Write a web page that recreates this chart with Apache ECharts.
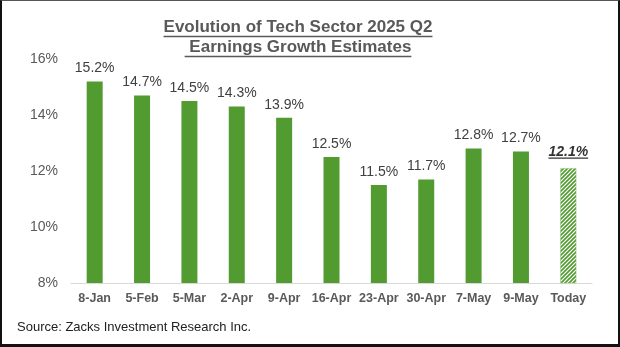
<!DOCTYPE html>
<html><head><meta charset="utf-8">
<script src="https://cdn.jsdelivr.net/npm/echarts@6/dist/echarts.min.js"></script>
<style>
html,body{margin:0;padding:0;background:#fff;}
#frame{position:absolute;left:0;top:0;width:620px;height:347px;box-sizing:border-box;border-left:2px solid #111;border-top:1px solid #555;border-right:2px solid #111;border-bottom:3px solid #111;}
#c{position:absolute;left:0;top:0;width:620px;height:347px;}
</style></head>
<body><div id="c"></div><div id="frame"></div>
<script>
const categories = ['8-Jan','5-Feb','5-Mar','2-Apr','9-Apr','16-Apr','23-Apr','30-Apr','7-May','9-May','Today'];
const growth = [15.2,14.7,14.5,14.3,13.9,12.5,11.5,11.7,12.8,12.7,12.1];
const yTicks = [8,10,12,14,16];
const titleLines = ['Evolution of Tech Sector 2025 Q2',' Earnings Growth Estimates'];
const sourceText = 'Source: Zacks Investment Research Inc.';

const GREEN = '#519B31';
const FONT = '"Liberation Sans", Arial, sans-serif';
const TITLE_CX = 298, TITLE_TOPS = [19, 39], TITLE_SIZE = 17;

// hatch pattern for the "Today" bar
const pat = document.createElement('canvas');
pat.width = 4; pat.height = 4;
const pc = pat.getContext('2d');
pc.fillStyle = '#fff'; pc.fillRect(0,0,4,4);
pc.strokeStyle = GREEN; pc.lineWidth = 1.6;
pc.beginPath();
pc.moveTo(-1,5); pc.lineTo(5,-1);
pc.moveTo(-3,3); pc.lineTo(3,-3);
pc.moveTo(1,7); pc.lineTo(7,1);
pc.stroke();

const ctx = document.createElement('canvas').getContext('2d');
ctx.font = 'bold ' + TITLE_SIZE + 'px ' + FONT;
const titleW = titleLines.map(t => ctx.measureText(t).width);

const chart = echarts.init(document.getElementById('c'), null, {renderer:'canvas'});
const last = growth.length - 1;
const seriesData = growth.map((v,i) => i === last ? {
  value: v,
  itemStyle: {color: {image: pat, repeat: 'repeat'}, borderColor: '#8cc070', borderWidth: 0.5},
  label: {fontWeight: 'bold', fontStyle: 'italic', color: '#333', distance: 9}
} : v);

chart.setOption({
  animation: false,
  title: [
    {text: titleLines[0], padding: 0, left: TITLE_CX - titleW[0]/2, top: TITLE_TOPS[0], textStyle: {fontFamily: FONT, fontSize: TITLE_SIZE, fontWeight: 'bold', color: '#595959'}},
    {text: titleLines[1], padding: 0, left: TITLE_CX - titleW[1]/2, top: TITLE_TOPS[1], textStyle: {fontFamily: FONT, fontSize: TITLE_SIZE, fontWeight: 'bold', color: '#595959'}},
    {text: sourceText, left: 12, top: 316, textStyle: {fontFamily: FONT, fontSize: 13, fontWeight: 'normal', color: '#222'}}
  ],
  grid: {left: 71, right: 28, top: 59, bottom: 64},
  xAxis: {
    type: 'category', data: categories,
    axisLine: {lineStyle: {color: '#d9d9d9', width: 1}},
    axisTick: {show: false},
    axisLabel: {interval: 0, fontFamily: FONT, fontSize: 12.5, fontWeight: 'bold', color: '#595959', margin: 9}
  },
  yAxis: {
    type: 'value', min: yTicks[0], max: yTicks[yTicks.length-1], interval: 2,
    axisLine: {show: false}, axisTick: {show: false}, splitLine: {show: false},
    axisLabel: {fontFamily: FONT, fontSize: 14, color: '#595959', margin: 13, formatter: v => v + '%'}
  },
  series: [{
    type: 'bar', data: seriesData, barWidth: 16,
    itemStyle: {color: GREEN},
    label: {show: true, position: 'top', distance: 6, fontFamily: FONT, fontSize: 14, color: '#404040', formatter: p => p.value.toFixed(1) + '%'}
  }]
});

// underlines for title and Today label
const g = [];
titleLines.forEach((t,i) => {
  const y = TITLE_TOPS[i] + 17.5;
  g.push({type: 'line', shape: {x1: TITLE_CX - titleW[i]/2, y1: y, x2: TITLE_CX + titleW[i]/2, y2: y}, style: {stroke: '#595959', lineWidth: 1.3}});
});
ctx.font = 'italic bold 14px ' + FONT;
const lw = ctx.measureText(growth[last].toFixed(1) + '%').width;
const pt = chart.convertToPixel({seriesIndex: 0}, [last, growth[last]]);
g.push({type: 'line', shape: {x1: pt[0] - lw/2, y1: pt[1] - 10, x2: pt[0] + lw/2, y2: pt[1] - 10}, style: {stroke: '#333', lineWidth: 1.2}});
chart.setOption({graphic: g});
</script></body></html>
